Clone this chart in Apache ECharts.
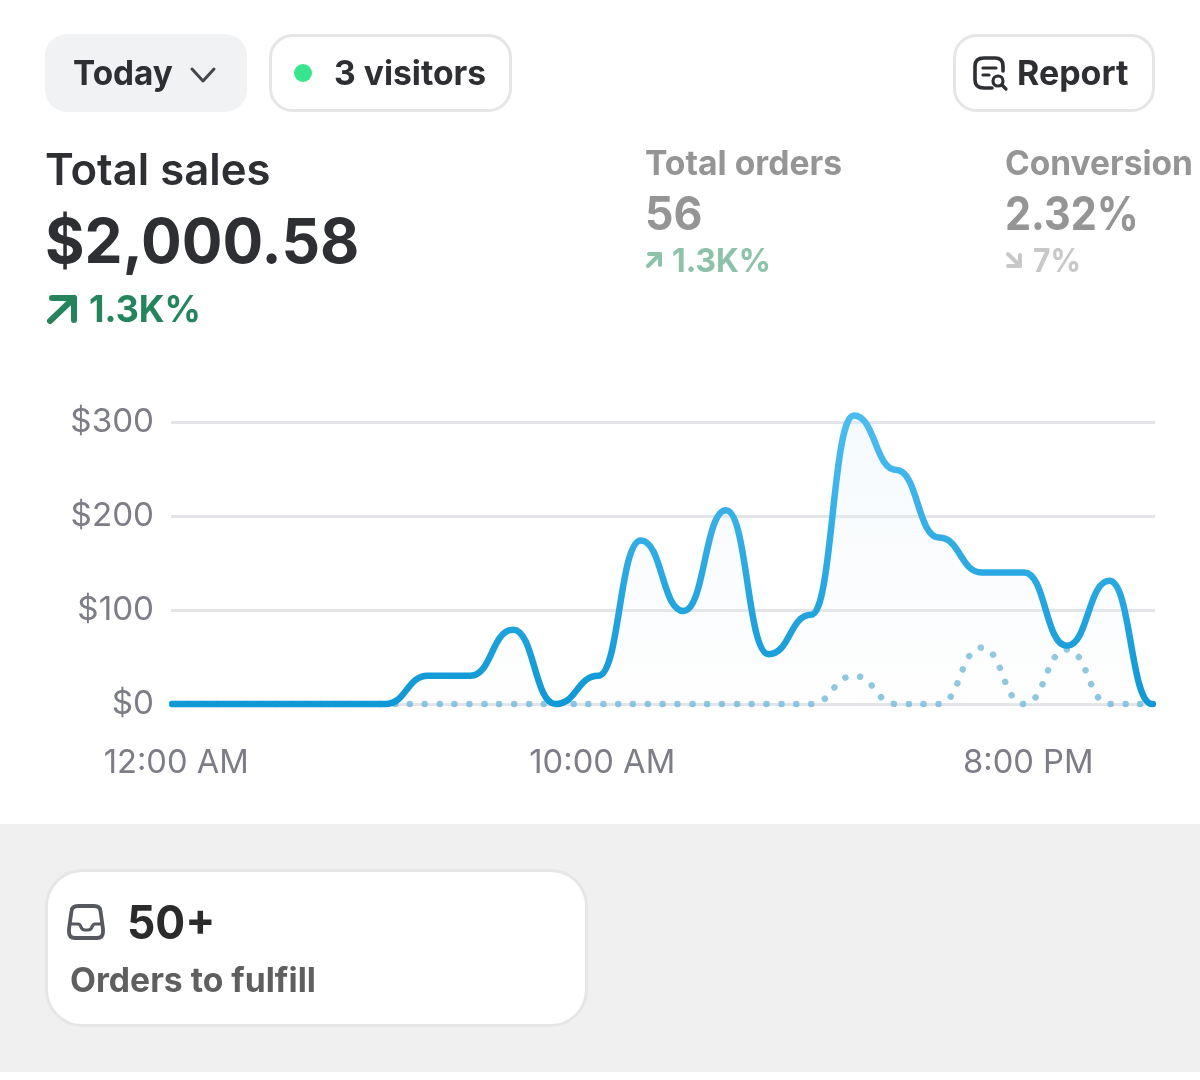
<!DOCTYPE html>
<html>
<head>
<meta charset="utf-8">
<style>html,body{margin:0;padding:0;background:#fff}#c{width:1200px;height:1080px}</style>
<script src="https://cdn.jsdelivr.net/npm/echarts@6/dist/echarts.min.js"></script>
</head>
<body>
<div id="c"></div>
<script>
const hourLabels = {0:'12:00 AM',10:'10:00 AM',20:'8:00 PM'};
const hourValues = [0,1,2,3,4,5,6,7,8,9,10,11,12,13,14,15,16,17,18,19,20,21,22,23,23.02];
const todaySales = [0,0,0,0,0,0,30,30,79,0,30,174,99,206,53,95,307,249,177,140,140,62,131,0,0];
const previousSales = [0,0,0,0,0,0,0,0,0,0,0,0,0,0,0,0,30,0,0,60,0,58,0,0,0];
const yTicks = [0,100,200,300];
const xTicks = [0,10,20];

const FONT = 'Inter';
function svgShape(name, d) {
  echarts.graphic.registerShape(name, echarts.graphic.extendPath(d, {}));
}
svgShape('reportBody','M1003 71 V66 Q1003 58 995 58 H984 Q975 58 975 66 V80 Q975 88 984 88 H992');
svgShape('inboxBody','M78 906 H94 Q100 906 100.500 911 L103 929 V932 Q103 938 97 938 H75 Q69 938 69 932 V929 L71.500 911 Q72 906 78 906 Z');
svgShape('inboxTray','M70 924 H78 Q80 924 81 927 Q82 930 85 930 H88 Q91 930 92 927 Q93 924 95 924 H102');

function label(text, x, y, size, weight, fill, sx) {
  return {type:'text', x, y, scaleX:sx||1, silent:true, style:{text, x:0, y:0, fill, font:`${weight} ${size}px ${FONT}`, verticalAlign:'middle', align:'left'}};
}
function stroke(shape, color, w, type) {
  return {type: type||'polyline', silent:true, shape, style:{stroke:color, lineWidth:w, fill:null, lineCap:'round', lineJoin:'round'}};
}
function box(x,y,w,h,r,fill,border) {
  return {type:'rect', silent:true, shape:{x,y,width:w,height:h,r}, style:{fill, stroke:border||null, lineWidth:border?3:0}};
}

const graphics = [
  {type:'rect', silent:true, z:-1, shape:{x:0,y:824,width:1200,height:248}, style:{fill:'#f0f0f0'}},
  box(45,34,202,78,22,'#f1f2f4'),
  label('Today',73,75,34,700,'#2e2f33',0.98),
  stroke({points:[[192,69],[203,81],[214,69]]},'#45474c',3),
  box(270.5,35.5,240,75,22,'#fff','#e6e6e6'),
  {type:'circle', silent:true, shape:{cx:303,cy:73,r:9}, style:{fill:'#37e58e'}},
  label('3 visitors',334,75,34,700,'#2e2f33',0.99),
  box(954.5,35.5,199,75,22,'#fff','#e6e6e6'),
  stroke({},'#2e2f33',3.6,'reportBody'),
  stroke({points:[[983,68],[996,68]]},'#2e2f33',3.2),
  stroke({points:[[983,75],[989,75]]},'#2e2f33',3.2),
  stroke({cx:998,cy:81,r:5},'#2e2f33',3.2,'circle'),
  stroke({points:[[1002,85],[1006,89]]},'#2e2f33',3.2),
  label('Report',1017,75,34,700,'#2e2f33',1),

  label('Total sales',45,172,44,600,'#2e2f33',0.993),
  label('$2,000.58',45,244,62,700,'#2e2f33',0.975),
  stroke({points:[[50,321],[74,298]]},'#24855d',6),
  stroke({points:[[52,298],[74,298],[74,320]]},'#24855d',6),
  label('1.3K%',89,311,37,700,'#24855d',0.97),

  label('Total orders',645,165,33.7,700,'#959595'),
  label('56',645,216,46,700,'#959595',0.97),
  stroke({points:[[648,266],[660,254]]},'#8cc2a9',4),
  stroke({points:[[649,254],[660,254],[660,265]]},'#8cc2a9',4),
  label('1.3K%',672,262,33,700,'#8cc2a9',0.96),

  label('Conversion',1005,165,33.5,700,'#959595'),
  label('2.32%',1005,216,46,700,'#959595',0.9),
  stroke({points:[[1008,254],[1020,266]]},'#c8c8c8',4),
  stroke({points:[[1008,266],[1020,266],[1020,255]]},'#c8c8c8',4),
  label('7%',1033,262,33,700,'#c8c8c8',0.91),

  box(46.5,870.5,540,155,36,'#fff','#e6e6e6'),
  stroke({},'#55585e',3.8,'inboxBody'),
  stroke({},'#55585e',3.2,'inboxTray'),
  label('50+',127,925,46,700,'#2b2b2b',0.965),
  label('Orders to fulfill',70,982,33.7,700,'#5f5f5f')
];

const chart = echarts.init(document.getElementById('c'));
chart.setOption({
  animation:false,
  backgroundColor:'#fff',
  textStyle:{fontFamily:FONT},
  grid:{left:171,right:45,top:422,height:282,containLabel:false},
  xAxis:{
    type:'value', min:-0.03, max:23.07,
    axisLine:{show:false}, axisTick:{show:false, customValues:xTicks}, splitLine:{show:false},
    axisLabel:{customValues:xTicks, formatter:v=>hourLabels[v], margin:43, padding:[0,0,0,8], fontSize:32.7, fontWeight:400, fontFamily:FONT, color:'#7c7d86'}
  },
  yAxis:{
    type:'value', min:yTicks[0], max:yTicks[3], interval:100,
    axisLine:{show:false}, axisTick:{show:false},
    axisLabel:{margin:17, padding:[10,0,0,0], fontSize:33.2, fontWeight:400, fontFamily:FONT, color:'#7c7d86', formatter:v=>'$'+v},
    splitLine:{lineStyle:{color:'#e3e4e8', width:3}}
  },
  graphic:graphics,
  series:[
    {name:'Previous', type:'line', data:hourValues.map((h,i)=>[h,previousSales[i]]), smooth:0.5, smoothMonotone:'x', showSymbol:false, clip:false, z:2,
      lineStyle:{color:'#85c3de', width:6.5, type:[0.01,14.85], cap:'round'}},
    {name:'Today', type:'line', data:hourValues.map((h,i)=>[h,todaySales[i]]), smooth:0.5, smoothMonotone:'x', showSymbol:false, clip:false, z:3,
      lineStyle:{width:6.5, cap:'round', color:new echarts.graphic.LinearGradient(0,0,0,1,[{offset:0,color:'#4dbdf0'},{offset:1,color:'#0e98d5'}])},
      areaStyle:{color:new echarts.graphic.LinearGradient(0,0,0,1,[{offset:0,color:'rgba(225,240,250,0.5)'},{offset:1,color:'rgba(240,242,248,0.1)'}])}}
  ]
});
</script>
</body>
</html>
